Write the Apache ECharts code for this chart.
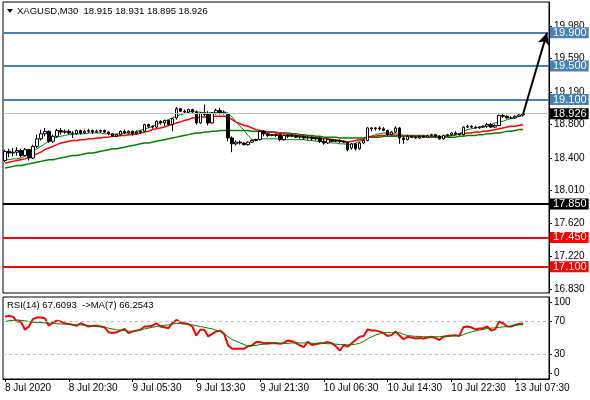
<!DOCTYPE html>
<html>
<head>
<meta charset="utf-8">
<script src="https://cdn.jsdelivr.net/npm/echarts@6/dist/echarts.min.js"></script>
<style>
	html, body { margin: 0; padding: 0; background: #fff; }
	#main { width: 590px; height: 400px; }
</style>
</head>
<body>
<div id="main"></div>
<script>
	// time axis labels, one every 16 bars (M30)
	var timeLabels = ['8 Jul 2020', '8 Jul 20:30', '9 Jul 05:30', '9 Jul 13:30', '9 Jul 21:30',
		'10 Jul 06:30', '10 Jul 14:30', '10 Jul 22:30', '13 Jul 07:30']

	// XAGUSD M30 bars: [open, close, low, high]
	var candles = [
		[18.37,18.48,18.35,18.50],[18.48,18.46,18.41,18.51],[18.46,18.47,18.42,18.52],[18.47,18.49,18.43,18.53],
		[18.49,18.43,18.41,18.51],[18.43,18.50,18.42,18.52],[18.50,18.40,18.37,18.51],[18.40,18.54,18.39,18.56],
		[18.54,18.63,18.52,18.68],[18.63,18.69,18.61,18.74],[18.69,18.72,18.66,18.76],[18.72,18.60,18.58,18.73],
		[18.60,18.66,18.58,18.68],[18.66,18.73,18.64,18.75],[18.73,18.71,18.68,18.76],[18.71,18.72,18.69,18.74],
		[18.72,18.70,18.68,18.74],[18.70,18.69,18.64,18.72],[18.69,18.73,18.68,18.74],[18.73,18.70,18.68,18.74],
		[18.70,18.72,18.69,18.74],[18.72,18.73,18.70,18.75],[18.73,18.71,18.69,18.74],[18.71,18.72,18.70,18.74],
		[18.72,18.73,18.70,18.74],[18.73,18.71,18.70,18.74],[18.71,18.69,18.67,18.72],[18.69,18.66,18.65,18.70],
		[18.66,18.68,18.65,18.69],[18.68,18.72,18.66,18.73],[18.72,18.70,18.69,18.74],[18.70,18.72,18.69,18.73],
		[18.72,18.69,18.67,18.73],[18.69,18.71,18.68,18.73],[18.71,18.72,18.69,18.73],[18.72,18.80,18.71,18.81],
		[18.80,18.78,18.76,18.81],[18.78,18.77,18.75,18.79],[18.77,18.84,18.76,18.85],[18.84,18.82,18.80,18.85],
		[18.82,18.85,18.78,18.86],[18.85,18.80,18.79,18.86],[18.80,18.87,18.72,18.88],[18.88,18.99,18.86,19.01],
		[18.99,18.96,18.95,19.00],[18.96,18.95,18.93,18.98],[18.95,18.98,18.93,18.99],[18.98,18.95,18.94,18.99],
		[18.95,18.82,18.80,18.97],[18.82,18.94,18.81,18.95],[18.94,18.92,18.90,19.04],[18.92,18.82,18.79,18.96],
		[18.82,18.94,18.81,18.95],[18.94,18.97,18.92,18.99],[18.97,18.94,18.92,19.00],[18.94,18.95,18.92,18.97],
		[18.92,18.64,18.60,18.94],[18.64,18.57,18.47,18.66],[18.57,18.59,18.55,18.61],[18.59,18.58,18.56,18.61],
		[18.58,18.56,18.55,18.59],[18.56,18.59,18.55,18.60],[18.59,18.61,18.58,18.62],[18.61,18.62,18.60,18.63],
		[18.62,18.72,18.61,18.73],[18.72,18.69,18.66,18.73],[18.69,18.67,18.65,18.70],[18.67,18.68,18.66,18.69],
		[18.68,18.67,18.65,18.69],[18.68,18.62,18.60,18.69],[18.62,18.67,18.61,18.68],[18.67,18.66,18.64,18.68],
		[18.66,18.67,18.65,18.69],[18.67,18.65,18.64,18.68],[18.65,18.66,18.63,18.67],[18.66,18.64,18.62,18.67],
		[18.64,18.65,18.62,18.66],[18.65,18.63,18.61,18.66],[18.63,18.64,18.61,18.65],[18.64,18.60,18.58,18.65],
		[18.60,18.58,18.56,18.64],[18.58,18.62,18.57,18.63],[18.62,18.60,18.59,18.63],[18.60,18.61,18.59,18.62],
		[18.61,18.60,18.58,18.62],[18.60,18.59,18.58,18.61],[18.59,18.50,18.48,18.60],[18.52,18.57,18.50,18.58],
		[18.57,18.51,18.49,18.58],[18.51,18.58,18.50,18.59],[18.58,18.61,18.57,18.62],[18.61,18.76,18.60,18.77],
		[18.76,18.75,18.72,18.77],[18.75,18.76,18.73,18.77],[18.76,18.75,18.73,18.78],[18.75,18.73,18.72,18.77],
		[18.73,18.68,18.66,18.74],[18.68,18.71,18.67,18.72],[18.71,18.76,18.70,18.78],[18.76,18.64,18.57,18.77],
		[18.64,18.62,18.57,18.66],[18.62,18.66,18.61,18.67],[18.66,18.65,18.64,18.67],[18.65,18.64,18.63,18.66],
		[18.64,18.66,18.63,18.67],[18.66,18.65,18.64,18.67],[18.65,18.67,18.64,18.68],[18.67,18.68,18.66,18.69],
		[18.68,18.66,18.65,18.69],[18.66,18.63,18.62,18.67],[18.63,18.67,18.62,18.68],[18.67,18.68,18.66,18.69],
		[18.68,18.70,18.67,18.71],[18.70,18.69,18.68,18.72],[18.69,18.68,18.67,18.70],[18.68,18.77,18.67,18.78],
		[18.77,18.78,18.76,18.80],[18.78,18.77,18.76,18.79],[18.77,18.76,18.75,18.78],[18.76,18.77,18.75,18.78],
		[18.77,18.78,18.76,18.79],[18.78,18.80,18.76,18.82],[18.80,18.77,18.76,18.82],[18.77,18.79,18.76,18.80],
		[18.79,18.91,18.78,18.92],[18.91,18.90,18.88,18.94],[18.90,18.88,18.87,18.91],[18.88,18.88,18.87,18.90],
		[18.88,18.90,18.87,18.91],[18.90,18.915,18.89,18.93],[18.915,18.926,18.895,18.931]
	]

	// moving averages on price
	var maFast = [
		18.38,18.38,18.39,18.39,18.40,18.42,18.45,18.48,18.51,18.54,
		18.57,18.60,18.63,18.65,18.66,18.67,18.68,18.68,18.69,18.69,
		18.69,18.70,18.70,18.70,18.70,18.69,18.69,18.68,18.69,18.69,
		18.70,18.70,18.70,18.72,18.73,18.75,18.76,18.78,18.80,18.82,
		18.84,18.86,18.88,18.90,18.92,18.93,18.95,18.96,18.95,18.95,
		18.94,18.94,18.94,18.94,18.94,18.94,18.94,18.89,18.83,18.78,
		18.73,18.67,18.62,18.62,18.63,18.63,18.63,18.63,18.63,18.62,
		18.62,18.62,18.62,18.62,18.62,18.62,18.61,18.61,18.60,18.60,
		18.59,18.59,18.58,18.58,18.57,18.57,18.56,18.56,18.58,18.60,
		18.62,18.64,18.66,18.68,18.69,18.70,18.70,18.70,18.69,18.68,
		18.67,18.66,18.65,18.65,18.65,18.65,18.65,18.65,18.65,18.65,
		18.66,18.66,18.67,18.67,18.69,18.72,18.74,18.75,18.76,18.77,
		18.78,18.79,18.80,18.82,18.83,18.84,18.86,18.87,18.88,18.90,
		18.91
	]
	var maRed = [
		18.34,18.35,18.36,18.37,18.38,18.39,18.41,18.43,18.45,18.47,
		18.50,18.52,18.54,18.56,18.58,18.59,18.60,18.61,18.61,18.62,
		18.62,18.63,18.63,18.64,18.64,18.65,18.65,18.66,18.66,18.67,
		18.67,18.68,18.68,18.69,18.70,18.71,18.72,18.74,18.75,18.76,
		18.77,18.79,18.80,18.82,18.83,18.85,18.86,18.88,18.88,18.89,
		18.89,18.90,18.90,18.90,18.90,18.90,18.89,18.86,18.83,18.81,
		18.79,18.78,18.76,18.74,18.73,18.72,18.71,18.71,18.70,18.70,
		18.69,18.68,18.68,18.67,18.67,18.66,18.65,18.65,18.64,18.64,
		18.63,18.63,18.62,18.62,18.61,18.60,18.59,18.60,18.61,18.62,
		18.63,18.65,18.66,18.66,18.67,18.67,18.68,18.68,18.67,18.67,
		18.67,18.67,18.66,18.66,18.66,18.66,18.65,18.65,18.65,18.65,
		18.66,18.66,18.67,18.68,18.69,18.69,18.70,18.70,18.71,18.71,
		18.72,18.72,18.73,18.74,18.75,18.76,18.77,18.78,18.78,18.79,
		18.80
	]
	var maSlow = [
		18.28,18.29,18.30,18.31,18.31,18.32,18.33,18.34,18.35,18.36,
		18.37,18.38,18.38,18.39,18.40,18.41,18.42,18.43,18.43,18.44,
		18.45,18.46,18.46,18.47,18.48,18.49,18.50,18.51,18.51,18.52,
		18.53,18.54,18.55,18.56,18.57,18.58,18.58,18.59,18.60,18.61,
		18.62,18.63,18.64,18.65,18.66,18.67,18.68,18.69,18.70,18.70,
		18.71,18.71,18.72,18.72,18.73,18.73,18.73,18.73,18.73,18.73,
		18.73,18.73,18.72,18.72,18.72,18.72,18.71,18.71,18.71,18.70,
		18.70,18.70,18.69,18.69,18.68,18.68,18.67,18.67,18.66,18.66,
		18.65,18.65,18.65,18.65,18.64,18.64,18.64,18.64,18.64,18.64,
		18.64,18.65,18.65,18.65,18.65,18.66,18.66,18.66,18.66,18.66,
		18.66,18.67,18.67,18.67,18.67,18.67,18.66,18.66,18.66,18.66,
		18.65,18.65,18.65,18.65,18.66,18.66,18.67,18.67,18.67,18.68,
		18.68,18.69,18.69,18.70,18.70,18.71,18.72,18.72,18.73,18.74,
		18.74
	]

	// RSI(14) and its MA(7)
	var rsi = [
		76,77,76,70,70,60,64,73,75,75,
		74,65,69,71,70,68,67,66,65,68,
		66,64,65,65,64,63,57,56,57,59,
		61,56,58,59,60,64,64,65,68,64,
		63,62,68,72,69,68,67,64,53,60,
		60,52,55,58,59,55,41,37,37,37,
		37,40,41,45,45,43.5,44,44,44,43,
		44,47,46,44,41,39,45.5,41.5,42.5,43.5,
		44,45,43.5,40,34.5,41.5,39.5,43.5,47.5,51.5,
		52.5,60.5,59,59,58,56,52.5,53.5,58,53,
		48.5,51.5,50.5,49.5,50,49.5,50.5,51.5,50,47.5,
		51.5,52.5,53,53.5,52.5,63,64,63,60.5,61.5,
		62,64,59,60.5,70,68,64,64,66,67,
		67.6093
	]
	var rsiMa = [
		70,71,71.5,72,71.5,71,70,69,69,69,
		68.5,68,68,67.5,67,67,67,66.5,66,66,
		65.5,65,64.5,64,64,63,62,61,60,59.5,
		59,58.5,58,59,60,61,62,63,64,65,
		65.5,66,67,68,67.5,67,66.5,66,65,64,
		63,62,61,59.5,58,55,51.5,48,46,44,
		42,40,40.5,41,42,42.5,42.5,43,43,43.5,
		43.5,43.5,44,44,44,44,44,43.5,43.5,43.5,
		43.5,43,43,42.5,42,42,41.5,42,42.5,43.5,
		46,49,51.5,53.5,55,56.5,56.5,56.5,56.5,56.5,
		54.5,53,52.5,52,52,51.5,51.5,51.5,51.5,51.5,
		52,52,52.5,52.5,52.5,54,56,57.5,58.5,59.5,
		60.5,61.5,62,62.5,63,63.5,64,64.5,65.5,66,
		66.2543
	]

	// horizontal levels and price scale ticks
	var resistLevels = [19.9, 19.5, 19.1]
	var pivotLevel = 17.85
	var supportLevels = [17.45, 17.1]
	var targetLevel = 19.9
	var priceTicks = [16.83, 17.22, 17.62, 18.01, 18.40, 18.80, 19.19, 19.59, 19.98]
	var rsiLevels = [30, 70]

	var FONT = 'Liberation Sans'
	var nSlots = 137   // bars + empty space for the arrow
	var slots = []
	for (var i = 0; i < nSlots; i++) slots.push(i)
	var lastIdx = candles.length - 1
	var last = candles[lastIdx]

	function tickShown(idx) {
		return idx % 16 === 0 && idx / 16 < timeLabels.length
	}

	function levelLine(v, color, width) {
		return {
			yAxis: v,
			lineStyle: { color: color, width: width, type: 'solid' },
			label: {
				show: true, position: 'end', distance: 1,
				formatter: v.toFixed(3),
				color: '#fff', backgroundColor: color,
				padding: [1, 2, 0, 3], lineHeight: 10,
				fontFamily: FONT, fontSize: 11
			}
		}
	}

	var levelData = []
	resistLevels.forEach(function (v) { levelData.push(levelLine(v, '#4682B4', 2)) })
	levelData.push(levelLine(pivotLevel, '#000000', 2))
	supportLevels.forEach(function (v) { levelData.push(levelLine(v, '#FF0000', 2)) })
	// current price
	var cur = levelLine(last[1], '#000000', 1)
	cur.lineStyle.color = '#C0C0C0'
	levelData.push(cur)
	// arrow to target
	levelData.push([
		{ coord: [lastIdx, last[1]], symbol: 'none', lineStyle: { color: '#000', width: 2, type: 'solid' }, label: { show: false } },
		{ coord: [nSlots - 1, targetLevel], symbol: 'arrow', symbolSize: [9, 12] }
	])

	var header = 'XAGUSD,M30  ' + last[0].toFixed(3) + ' ' + last[3].toFixed(3) + ' ' +
		last[2].toFixed(3) + ' ' + last[1].toFixed(3)
	var rsiHeader = 'RSI(14) ' + rsi[rsi.length - 1].toFixed(4) + '  ->MA(7) ' + rsiMa[rsiMa.length - 1].toFixed(4)

	var option = {
		animation: false,
		backgroundColor: '#fff',
		textStyle: { fontFamily: FONT },
		title: [
			{ text: header, left: 17, top: 6, padding: 0, textStyle: { fontFamily: FONT, fontSize: 9.5, fontWeight: 'normal', color: '#000' } },
			{ text: rsiHeader, left: 7, top: 300, padding: 0, textStyle: { fontFamily: FONT, fontSize: 9.5, fontWeight: 'normal', color: '#000' } }
		],
		graphic: [
			{ type: 'polygon', shape: { points: [[7, 9], [13, 9], [10, 13]] }, style: { fill: '#000' } }
		],
		grid: [
			{ left: 3, right: 41, top: 2, height: 291, show: true, borderColor: '#000', borderWidth: 1 },
			{ left: 3, right: 41, top: 297, height: 82, show: true, borderColor: '#000', borderWidth: 1 }
		],
		xAxis: [
			{
				type: 'category', gridIndex: 0, data: slots, boundaryGap: true,
				axisLine: { show: false }, axisTick: { show: false }, axisLabel: { show: false }, splitLine: { show: false }
			},
			{
				type: 'category', gridIndex: 1, data: slots, boundaryGap: true,
				axisLine: { show: true, lineStyle: { color: '#000' } },
				axisTick: { show: true, alignWithLabel: true, interval: tickShown, length: 3, lineStyle: { color: '#000' } },
				axisLabel: {
					interval: tickShown, align: 'left', margin: 4,
					formatter: function (v, idx) { return timeLabels[idx / 16] || '' },
					fontFamily: FONT, fontSize: 10, color: '#000'
				},
				splitLine: { show: false }
			}
		],
		yAxis: [
			{
				type: 'value', gridIndex: 0, position: 'right', min: 16.785, max: 20.267, scale: true,
				axisLine: { show: true, lineStyle: { color: '#000' } },
				axisTick: { show: true, length: 3, customValues: priceTicks, lineStyle: { color: '#000' } },
				axisLabel: {
					customValues: priceTicks, margin: 5,
					formatter: function (v) { return v.toFixed(3) },
					fontFamily: FONT, fontSize: 10, color: '#000'
				},
				splitLine: { show: false }
			},
			{
				type: 'value', gridIndex: 1, position: 'right', min: 0, max: 100,
				axisLine: { show: true, lineStyle: { color: '#000' } },
				axisTick: { show: true, length: 3, customValues: [7, 30, 70, 93], lineStyle: { color: '#000' } },
				axisLabel: {
					customValues: [7, 30, 70, 93], margin: 5,
					formatter: function (v) { return v < 10 ? '0' : (v > 90 ? '100' : String(v)) },
					fontFamily: FONT, fontSize: 10, color: '#000'
				},
				splitLine: { show: false }
			}
		],
		series: [
			{
				name: 'maSlow', type: 'line', xAxisIndex: 0, yAxisIndex: 0, data: maSlow,
				symbol: 'none', lineStyle: { color: '#008000', width: 1.5 }, z: 2
			},
			{
				name: 'maRed', type: 'line', xAxisIndex: 0, yAxisIndex: 0, data: maRed,
				symbol: 'none', lineStyle: { color: '#FF0000', width: 1.5 }, z: 2
			},
			{
				name: 'maFast', type: 'line', xAxisIndex: 0, yAxisIndex: 0, data: maFast,
				symbol: 'none', lineStyle: { color: '#008000', width: 1 }, z: 2
			},
			{
				name: 'XAGUSD', type: 'candlestick', xAxisIndex: 0, yAxisIndex: 0, data: candles,
				barWidth: 3, z: 3,
				itemStyle: { color: '#ffffff', color0: '#000000', borderColor: '#000000', borderColor0: '#000000', borderWidth: 1 },
				markLine: { silent: true, symbol: ['none', 'none'], data: levelData }
			},
			{
				name: 'RSI', type: 'line', xAxisIndex: 1, yAxisIndex: 1, data: rsi,
				symbol: 'none', lineStyle: { color: '#FF0000', width: 2 }, z: 3,
				markLine: {
					silent: true, symbol: ['none', 'none'], label: { show: false },
					lineStyle: { color: '#C0C0C0', type: [3, 3], width: 1 },
					data: rsiLevels.map(function (v) { return { yAxis: v } })
				}
			},
			{
				name: 'RSI MA', type: 'line', xAxisIndex: 1, yAxisIndex: 1, data: rsiMa,
				symbol: 'none', lineStyle: { color: '#008000', width: 1 }, z: 4
			}
		]
	}

	var myChart = echarts.init(document.getElementById('main'))
	myChart.setOption(option, true)
</script>
</body>
</html>
